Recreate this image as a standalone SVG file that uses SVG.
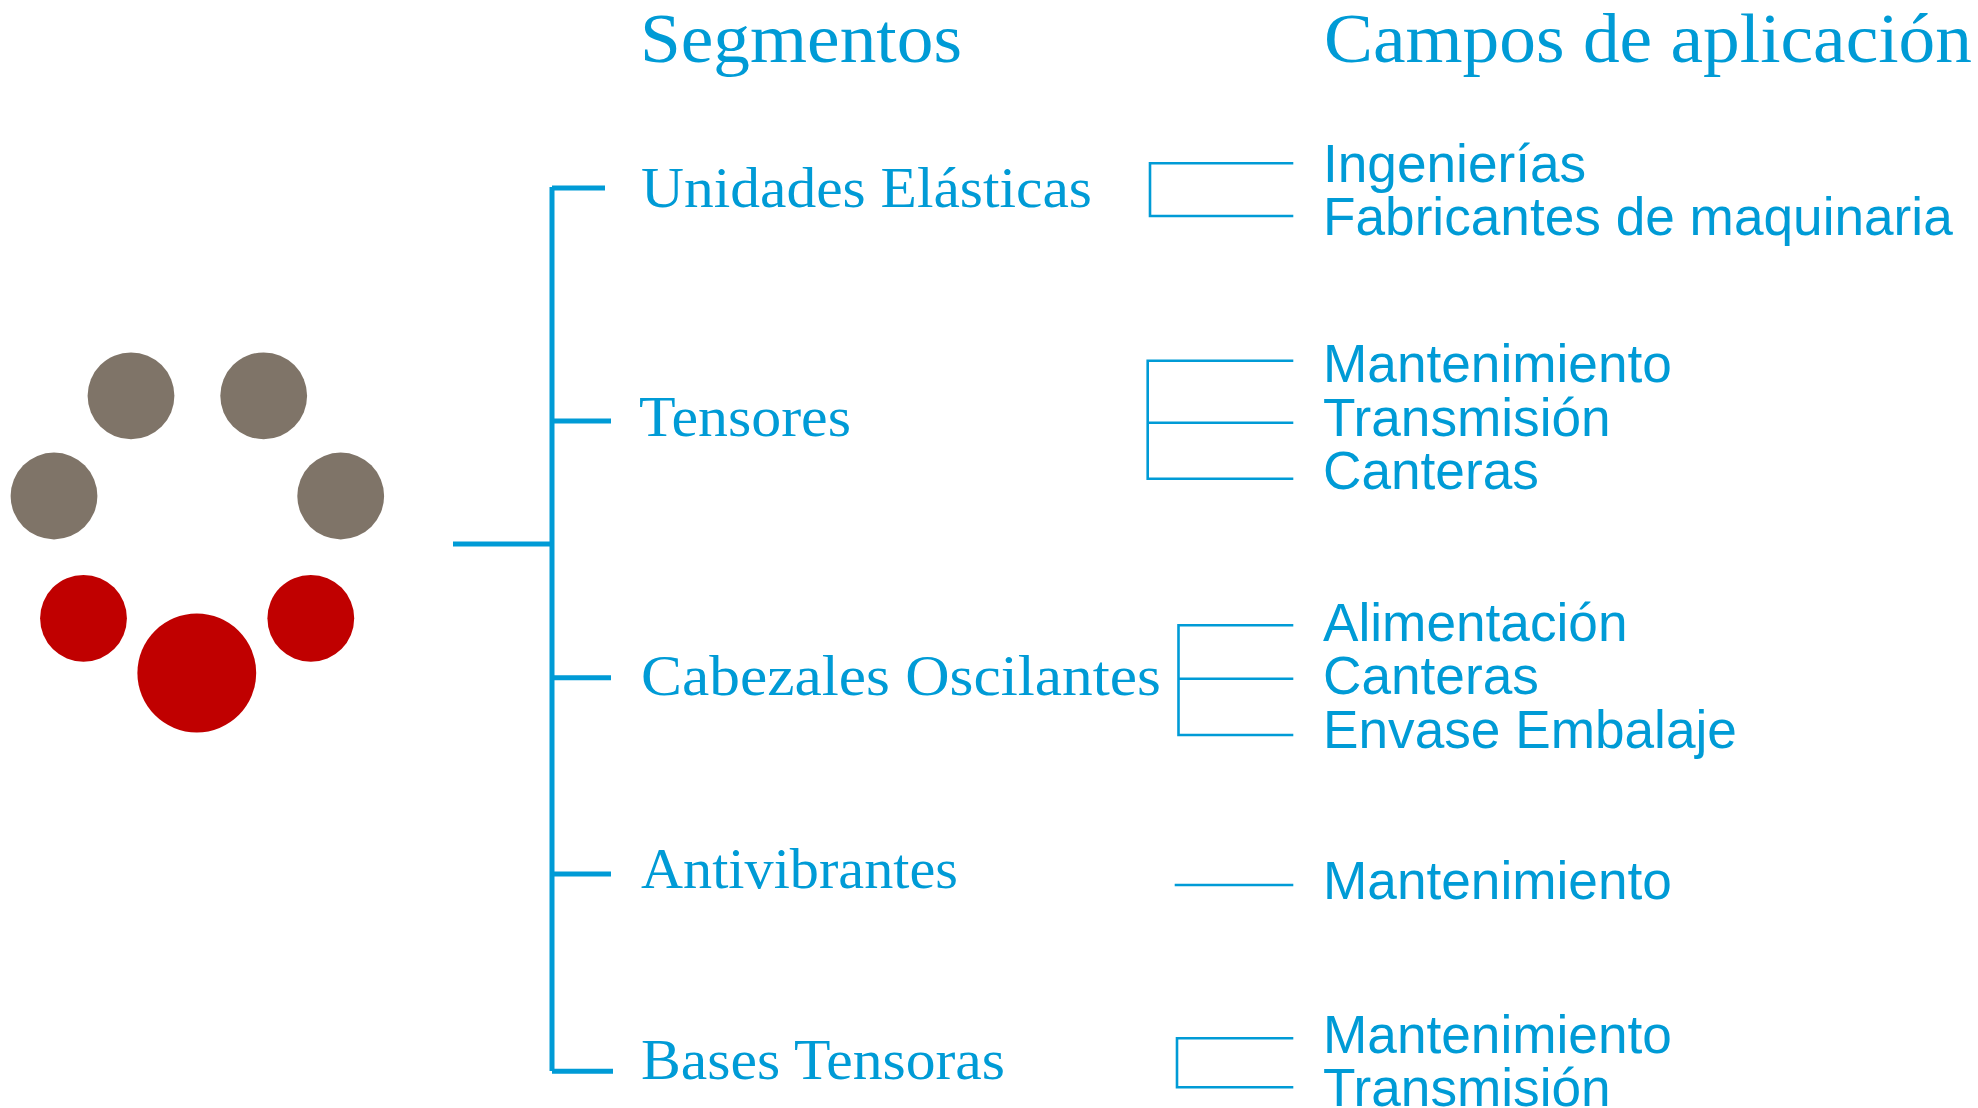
<svg xmlns="http://www.w3.org/2000/svg" width="1978" height="1108" viewBox="0 0 1978 1108">
<style>
.g{fill:#7f7468}.r{fill:#c00000}
.t{stroke:#009bd6;stroke-width:5;fill:none;stroke-linecap:butt}
.n{stroke:#009bd6;stroke-width:2.6;fill:none;stroke-linecap:square}
text{fill:#009bd6}
.s{font-family:"Liberation Serif","Times New Roman",serif}
.h{font-size:70px}.m{font-size:58px}
.a{font-family:"Liberation Sans",Arial,sans-serif;font-size:53.2px}
</style>
<rect width="1978" height="1108" fill="#fff"/>
<g id="dots">
<circle class="g" cx="131" cy="395.8" r="43.4"/>
<circle class="g" cx="263.7" cy="395.8" r="43.4"/>
<circle class="g" cx="54" cy="496" r="43.4"/>
<circle class="g" cx="340.7" cy="496" r="43.4"/>
<circle class="r" cx="83.5" cy="618.3" r="43.4"/>
<circle class="r" cx="310.8" cy="618.3" r="43.4"/>
<circle class="r" cx="196.8" cy="673" r="59.4"/>
</g>
<g id="connectors">
<path class="t" d="M453 544H552M552 187V1071M552 188H605M552 421H611M552 677.7H611M552 874H611M552 1071.3H613"/>
<path class="n" d="M1292 163.3H1150V216H1292"/>
<path class="n" d="M1292 360.7H1147.7V478.7H1292M1147.7 422.7H1292"/>
<path class="n" d="M1292 625.3H1178.5V735H1292M1178.5 678.7H1292"/>
<path class="n" d="M1176 885H1292"/>
<path class="n" d="M1292 1038.3H1177V1087.3H1292"/>
</g>
<g id="header-segmentos"><text class="s h" x="640" y="62" textLength="322" lengthAdjust="spacingAndGlyphs">Segmentos</text></g>
<g id="header-campos"><text class="s h" x="1324" y="62" textLength="648" lengthAdjust="spacingAndGlyphs">Campos de aplicación</text></g>
<g id="seg-unidades"><text class="s m" x="641" y="206.7" textLength="451" lengthAdjust="spacingAndGlyphs">Unidades Elásticas</text></g>
<g id="seg-tensores"><text class="s m" x="639" y="436" textLength="212" lengthAdjust="spacingAndGlyphs">Tensores</text></g>
<g id="seg-cabezales"><text class="s m" x="641" y="695" textLength="520" lengthAdjust="spacingAndGlyphs">Cabezales Oscilantes</text></g>
<g id="seg-antivibrantes"><text class="s m" x="641" y="888.3" textLength="317" lengthAdjust="spacingAndGlyphs">Antivibrantes</text></g>
<g id="seg-bases"><text class="s m" x="641" y="1079.3" textLength="364" lengthAdjust="spacingAndGlyphs">Bases Tensoras</text></g>
<g id="app-unidades">
<text class="a" x="1323" y="182">Ingenierías</text>
<text class="a" x="1323" y="235">Fabricantes de maquinaria</text>
</g>
<g id="app-tensores">
<text class="a" x="1323" y="382.3">Mantenimiento</text>
<text class="a" x="1323" y="435.7">Transmisión</text>
<text class="a" x="1323" y="489">Canteras</text>
</g>
<g id="app-cabezales">
<text class="a" x="1323" y="641">Alimentación</text>
<text class="a" x="1323" y="694.3">Canteras</text>
<text class="a" x="1323" y="747.7">Envase Embalaje</text>
</g>
<g id="app-antivibrantes">
<text class="a" x="1323" y="899">Mantenimiento</text>
</g>
<g id="app-bases">
<text class="a" x="1323" y="1053">Mantenimiento</text>
<text class="a" x="1323" y="1105.7">Transmisión</text>
</g>
</svg>
